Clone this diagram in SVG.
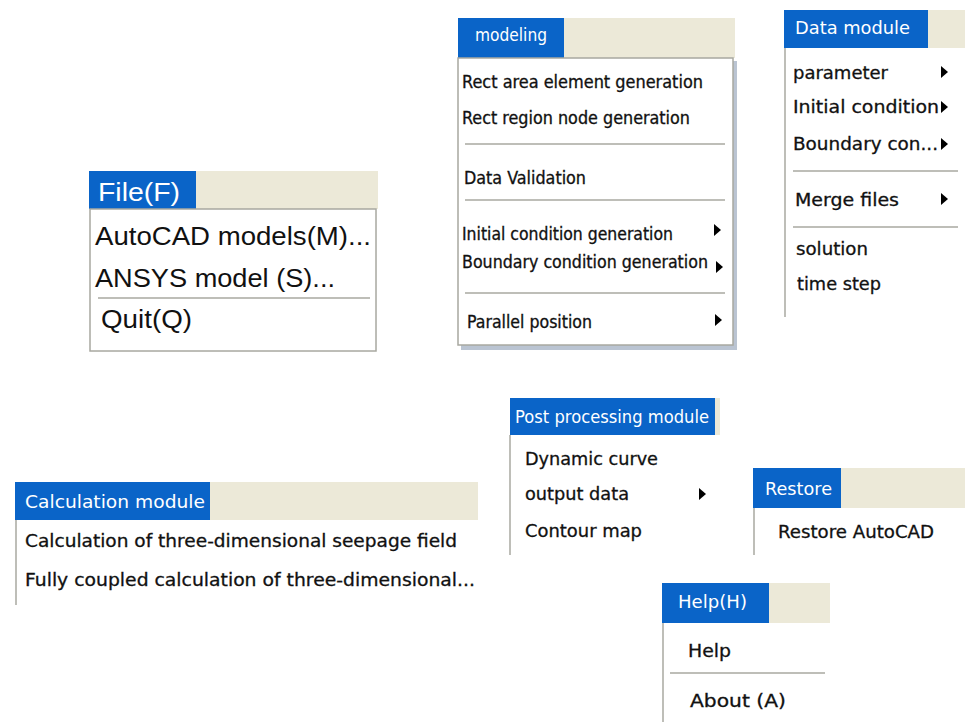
<svg xmlns="http://www.w3.org/2000/svg" width="965" height="722" viewBox="0 0 965 722">
<style>
.bg{fill:#ffffff}
.blue{fill:#0a64c8}
.beige{fill:#ece9d8}
.body{fill:#ffffff;stroke:#a8a8a0;stroke-width:1.5}
.edge{stroke:#a8a8a0;stroke-width:1.5;fill:none}
.sep{stroke:#a8a8a0;stroke-width:1.5}
.ht{fill:#ffffff;font-family:"DejaVu Sans","Liberation Sans",sans-serif;font-size:17px}
.it{fill:#111111;stroke:#111111;stroke-width:0.3;font-family:"DejaVu Sans","Liberation Sans",sans-serif;font-size:17px}
.ar{font-family:"Liberation Sans",Arial,sans-serif;font-size:26px;stroke-width:0}
.tah{font-family:"DejaVu Sans Condensed","DejaVu Sans",sans-serif;font-size:17px}
.arrow{fill:#000000}
</style>
<rect class="bg" x="0" y="0" width="965" height="722"/>

<g id="file-menu">
  <rect class="beige" x="89" y="171" width="289" height="38"/>
  <rect class="blue" x="89" y="171" width="107" height="38"/>
  <text class="ht ar" x="98" y="201" textLength="82" lengthAdjust="spacingAndGlyphs">File(F)</text>
  <rect class="body" x="90" y="209" width="286" height="142"/>
  <text class="it ar" x="95" y="245" textLength="276" lengthAdjust="spacingAndGlyphs">AutoCAD models(M)...</text>
  <text class="it ar" x="95" y="287" textLength="240" lengthAdjust="spacingAndGlyphs">ANSYS model (S)...</text>
  <line class="sep" x1="98" y1="298" x2="370" y2="298"/>
  <text class="it ar" x="101" y="328" textLength="91" lengthAdjust="spacingAndGlyphs">Quit(Q)</text>
</g>

<g id="modeling-menu">
  <rect class="beige" x="458" y="18" width="277" height="40"/>
  <rect class="blue" x="458" y="18" width="106" height="40"/>
  <text class="ht tah" x="475" y="41" textLength="72" lengthAdjust="spacingAndGlyphs">modeling</text>
  <rect x="461" y="61" width="276" height="289" fill="#8c9cb4" opacity="0.6"/>
  <rect class="body" x="458" y="58" width="275" height="287"/>
  <text class="it tah" x="462" y="88" textLength="241" lengthAdjust="spacingAndGlyphs">Rect area element generation</text>
  <text class="it tah" x="462" y="124" textLength="228" lengthAdjust="spacingAndGlyphs">Rect region node generation</text>
  <line class="sep" x1="465" y1="144" x2="725" y2="144"/>
  <text class="it tah" x="464" y="184" textLength="122" lengthAdjust="spacingAndGlyphs">Data Validation</text>
  <line class="sep" x1="465" y1="200" x2="725" y2="200"/>
  <text class="it tah" x="462" y="240" textLength="211" lengthAdjust="spacingAndGlyphs">Initial condition generation</text>
  <polygon class="arrow" points="714,224 721,230 714,236"/>
  <text class="it tah" x="462" y="268" textLength="246" lengthAdjust="spacingAndGlyphs">Boundary condition generation</text>
  <polygon class="arrow" points="716,261 723,267 716,273"/>
  <line class="sep" x1="465" y1="293" x2="725" y2="293"/>
  <text class="it tah" x="467" y="328" textLength="125" lengthAdjust="spacingAndGlyphs">Parallel position</text>
  <polygon class="arrow" points="715,314 722,320 715,326"/>
</g>

<g id="data-module">
  <rect class="beige" x="784" y="10" width="181" height="38"/>
  <rect class="blue" x="784" y="10" width="144" height="38"/>
  <text class="ht" x="795" y="34" textLength="115" lengthAdjust="spacingAndGlyphs">Data module</text>
  <line class="edge" x1="785" y1="48" x2="785" y2="317"/>
  <text class="it" x="793" y="79" textLength="95" lengthAdjust="spacingAndGlyphs">parameter</text>
  <polygon class="arrow" points="941,66 948,72 941,78"/>
  <text class="it" x="793" y="113" textLength="146" lengthAdjust="spacingAndGlyphs">Initial condition</text>
  <polygon class="arrow" points="941,101 948,107 941,113"/>
  <text class="it" x="793" y="150" textLength="145" lengthAdjust="spacingAndGlyphs">Boundary con...</text>
  <polygon class="arrow" points="941,138 948,144 941,150"/>
  <line class="sep" x1="793" y1="171" x2="958" y2="171"/>
  <text class="it" x="795" y="206" textLength="104" lengthAdjust="spacingAndGlyphs">Merge files</text>
  <polygon class="arrow" points="941,193 948,199 941,205"/>
  <line class="sep" x1="793" y1="227" x2="958" y2="227"/>
  <text class="it" x="796" y="255" textLength="72" lengthAdjust="spacingAndGlyphs">solution</text>
  <text class="it" x="797" y="290" textLength="84" lengthAdjust="spacingAndGlyphs">time step</text>
</g>

<g id="calculation-module">
  <rect class="beige" x="15" y="482" width="463" height="38"/>
  <rect class="blue" x="15" y="482" width="195" height="38"/>
  <text class="ht" x="25" y="508" textLength="180" lengthAdjust="spacingAndGlyphs">Calculation module</text>
  <line class="edge" x1="16" y1="520" x2="16" y2="605"/>
  <text class="it" x="25" y="547" textLength="432" lengthAdjust="spacingAndGlyphs">Calculation of three-dimensional seepage field</text>
  <text class="it" x="25" y="586" textLength="450" lengthAdjust="spacingAndGlyphs">Fully coupled calculation of three-dimensional...</text>
</g>

<g id="post-processing-module">
  <rect class="beige" x="510" y="398" width="210" height="37"/>
  <rect class="blue" x="510" y="398" width="205" height="37"/>
  <text class="ht" x="515" y="423" textLength="194" lengthAdjust="spacingAndGlyphs">Post processing module</text>
  <line class="edge" x1="510" y1="435" x2="510" y2="555"/>
  <text class="it" x="525" y="465" textLength="133" lengthAdjust="spacingAndGlyphs">Dynamic curve</text>
  <text class="it" x="525" y="500" textLength="104" lengthAdjust="spacingAndGlyphs">output data</text>
  <polygon class="arrow" points="699,488 706,494 699,500"/>
  <text class="it" x="525" y="537" textLength="117" lengthAdjust="spacingAndGlyphs">Contour map</text>
</g>

<g id="restore-menu">
  <rect class="beige" x="753" y="468" width="212" height="40"/>
  <rect class="blue" x="753" y="468" width="88" height="40"/>
  <text class="ht" x="765" y="495" textLength="67" lengthAdjust="spacingAndGlyphs">Restore</text>
  <line class="edge" x1="754" y1="508" x2="754" y2="555"/>
  <text class="it" x="778" y="538" textLength="156" lengthAdjust="spacingAndGlyphs">Restore AutoCAD</text>
</g>

<g id="help-menu">
  <rect class="beige" x="662" y="583" width="168" height="40"/>
  <rect class="blue" x="662" y="583" width="107" height="40"/>
  <text class="ht" x="678" y="608" textLength="69" lengthAdjust="spacingAndGlyphs">Help(H)</text>
  <line class="edge" x1="663" y1="623" x2="663" y2="722"/>
  <text class="it" x="688" y="657" textLength="43" lengthAdjust="spacingAndGlyphs">Help</text>
  <line class="sep" x1="670" y1="673" x2="825" y2="673"/>
  <text class="it" x="690" y="707" textLength="96" lengthAdjust="spacingAndGlyphs">About (A)</text>
</g>
</svg>
